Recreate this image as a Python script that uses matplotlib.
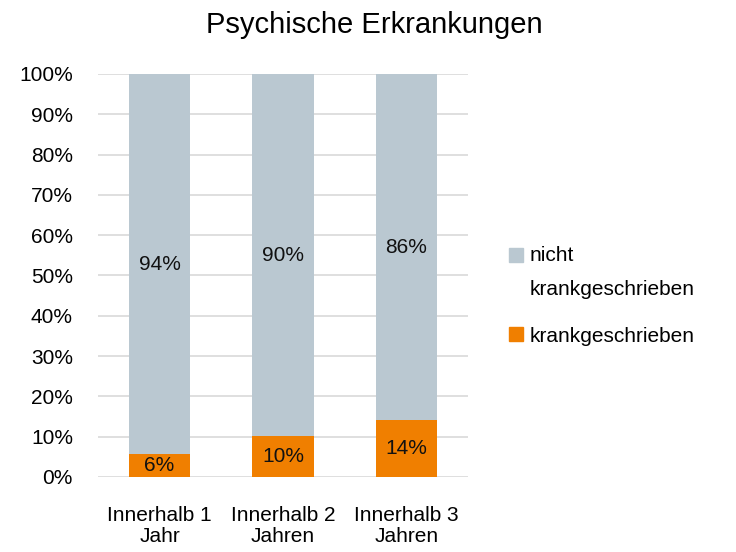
import matplotlib
matplotlib.use("Agg")
import matplotlib.pyplot as plt
import matplotlib.patches as mpatches
from matplotlib.legend_handler import HandlerPatch
import numpy as np

plt.rcParams['font.family'] = ['Liberation Sans', 'DejaVu Sans']

categories = ["Innerhalb 1\nJahr", "Innerhalb 2\nJahren", "Innerhalb 3\nJahren"]
krank = [5.6, 10.1, 14.1]
nicht_krank = [94.4, 89.9, 85.9]
krank_labels = ["6%", "10%", "14%"]
nicht_labels = ["94%", "90%", "86%"]
yticks = [0, 10, 20, 30, 40, 50, 60, 70, 80, 90, 100]
ytick_labels = [f"{v}%" for v in yticks]

c_gray = "#BAC8D1"
c_orange = "#F07F00"

fig = plt.figure(figsize=(7.36, 5.52), dpi=100)
ax = fig.add_axes([0.133, 0.136, 0.503, 0.730])

x = np.arange(len(categories))
b1 = ax.bar(x, krank, width=0.5, color=c_orange, label="krankgeschrieben", zorder=3)
b2 = ax.bar(x, nicht_krank, width=0.5, bottom=krank, color=c_gray,
            label="nicht\nkrankgeschrieben", zorder=3)

for i in range(len(x)):
    ax.text(x[i], krank[i] / 2, krank_labels[i], ha="center", va="center",
            fontsize=15, color="#111111", zorder=4)
    ax.text(x[i], krank[i] + nicht_krank[i] / 2, nicht_labels[i], ha="center",
            va="center", fontsize=15, color="#111111", zorder=4)

ax.set_xlim(-0.5, len(x) - 0.5)
ax.set_ylim(0, 100)
ax.set_yticks(yticks)
ax.set_yticklabels(ytick_labels, fontsize=15)
ax.set_xticks(x)
ax.set_xticklabels(categories, fontsize=15, linespacing=1.15)
ax.tick_params(axis="both", length=0)
ax.tick_params(axis="x", pad=21)
ax.tick_params(axis="y", pad=18)
ax.grid(axis="y", color="#D9D9D9", linewidth=1.2, zorder=0)
for s in ax.spines.values():
    s.set_visible(False)

fig.text(0.508, 0.955, "Psychische Erkrankungen", fontsize=21, ha="center", va="center")


def shifted_rect(legend, orig_handle, xdescent, ydescent, width, height, fontsize):
    return mpatches.Rectangle((-xdescent, -ydescent + 12.5), width, height)


handle_gray = mpatches.Patch(color=c_gray)
handle_orange = mpatches.Patch(color=c_orange)
labels = ["nicht\nkrankgeschrieben", "krankgeschrieben"]
leg = ax.legend([handle_gray, handle_orange], labels, loc="center left",
                bbox_to_anchor=(1.06, 0.45),
                frameon=False, fontsize=15, handlelength=0.65, handleheight=0.65,
                handletextpad=0.35, labelspacing=1.3,
                handler_map={handle_gray: HandlerPatch(patch_func=shifted_rect)})
for t in leg.get_texts():
    t.set_linespacing(2.05)

fig.savefig("out.png", dpi=100)
